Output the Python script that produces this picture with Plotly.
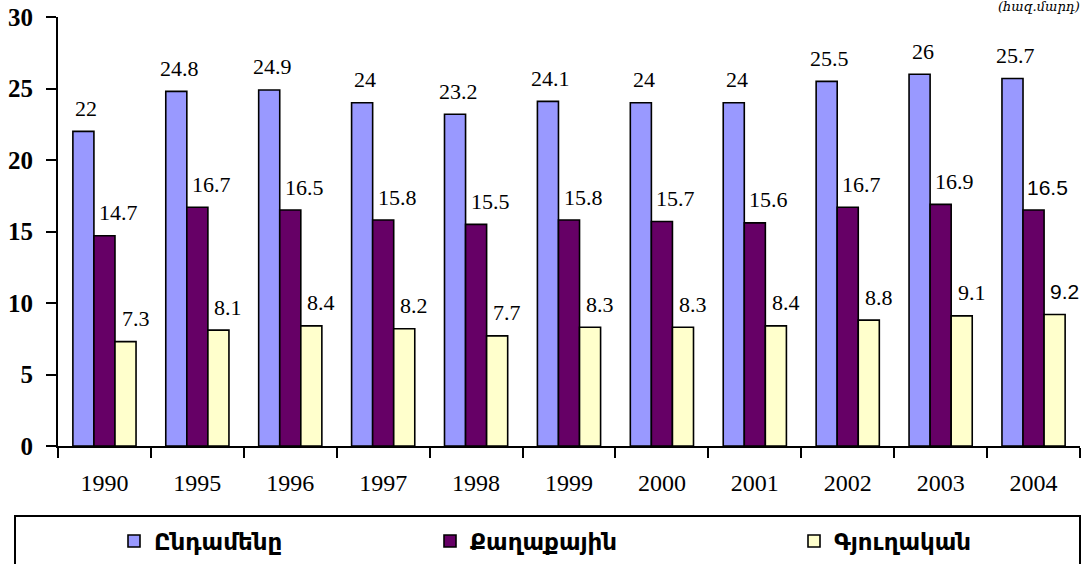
import plotly.graph_objects as go

years = ["1990", "1995", "1996", "1997", "1998", "1999", "2000", "2001", "2002", "2003", "2004"]
total = [22, 24.8, 24.9, 24, 23.2, 24.1, 24, 24, 25.5, 26, 25.7]
urban = [14.7, 16.7, 16.5, 15.8, 15.5, 15.8, 15.7, 15.6, 16.7, 16.9, 16.5]
rural = [7.3, 8.1, 8.4, 8.2, 7.7, 8.3, 8.3, 8.4, 8.8, 9.1, 9.2]
series_names = ["Ընդամենը", "Քաղաքային", "Գյուղական"]
colors = ["#9999FF", "#660066", "#FFFFCC"]
unit_note = "(հազ.մարդ)"

W, H = 1086, 564
ML, MR, MT, MB = 58, 6, 17, 118
bargap = 0.32
serif = "Liberation Serif"
pw = W - ML - MR
ph = H - MT - MB

fig = go.Figure()
legends = ["legend", "legend2", "legend3"]
for k, (name, vals, col) in enumerate(zip(series_names, [total, urban, rural], colors)):
    fig.add_trace(go.Bar(
        x=years, y=vals, name=name,
        marker=dict(color=col, line=dict(color="black", width=1.6)),
        legend=legends[k],
    ))

# data labels
w = (1 - bargap) / 3
xshifts = [3, 14, 10]
for k, vals in enumerate([total, urban, rural]):
    for i, v in enumerate(vals):
        last = (i == len(vals) - 1 and k > 0)
        fig.add_annotation(
            x=i + (k - 1) * w, y=v, xref="x", yref="y",
            text=f"{v:g}", showarrow=False,
            yshift=23, xshift=xshifts[k],
            font=dict(family=("Liberation Sans" if last else serif),
                      size=21 if last else 22, color="black"),
        )

# unit note
fig.add_annotation(
    x=(1082 - ML) / pw, y=(H - MB - 7) / ph, xref="paper", yref="paper",
    text=unit_note, showarrow=False, xanchor="right", yanchor="middle",
    font=dict(family="DejaVu Serif", size=13, color="black", style="italic"),
)

# legend frame
fig.add_shape(type="rect", xref="paper", yref="paper",
              x0=(15 - ML) / pw, x1=(1080 - ML) / pw,
              y0=(H - MB - 516) / ph, y1=(H - MB - 580) / ph,
              line=dict(color="black", width=2), fillcolor="rgba(0,0,0,0)", layer="above")

marker_x = [134, 450, 814]
leg_font = dict(family="DejaVu Sans", size=23, color="black", weight="bold")
leg_common = dict(orientation="h", xref="container", yref="container",
                  yanchor="middle", xanchor="left", bgcolor="rgba(0,0,0,0)",
                  font=leg_font, borderwidth=0)
fig.update_layout(
    legend=dict(x=(marker_x[0] - 20) / W, y=1 - 541 / H, **leg_common),
    legend2=dict(x=(marker_x[1] - 20) / W, y=1 - 541 / H, **leg_common),
    legend3=dict(x=(marker_x[2] - 20) / W, y=1 - 541 / H, **leg_common),
)

fig.update_layout(
    width=W, height=H, autosize=False,
    margin=dict(l=ML, r=MR, t=MT, b=MB, autoexpand=False),
    paper_bgcolor="white", plot_bgcolor="white",
    barmode="group", bargap=bargap, bargroupgap=0,
    showlegend=True,
    xaxis=dict(type="category", range=[-0.5, 10.5], tickson="boundaries",
               ticks="outside", ticklen=10, tickwidth=2, tickcolor="black",
               showline=True, linewidth=2, linecolor="black", showgrid=False,
               tickfont=dict(family=serif, size=24, color="black"),
               ticklabelstandoff=14, automargin=False),
    yaxis=dict(range=[0, 30], dtick=5, tick0=0, ticks="outside", ticklen=10,
               tickwidth=2, tickcolor="black", showline=True, linewidth=2,
               linecolor="black", showgrid=False, zeroline=False,
               tickfont=dict(family=serif, size=25, color="black", weight="bold"),
               ticklabelstandoff=8, automargin=False),
)

fig.write_html("out.html", config={"displayModeBar": False},
               post_script="document.body.style.margin='0';document.body.style.overflow='hidden';")
